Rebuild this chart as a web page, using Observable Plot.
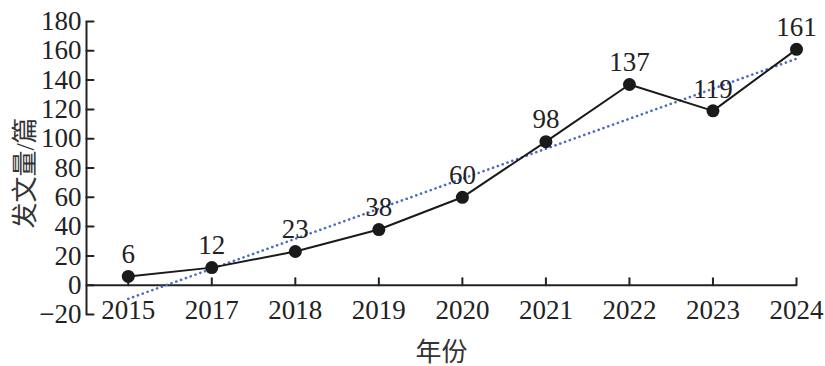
<!DOCTYPE html>
<html>
<head>
<meta charset="utf-8">
<script src="https://cdn.jsdelivr.net/npm/d3@7"></script>
<script src="https://cdn.jsdelivr.net/npm/@observablehq/plot@0.6"></script>
<style>
  html, body { margin: 0; padding: 0; background: #fff; }
  g[aria-label$="tick label"], g[aria-label$="tick label"] text { font-size: 27px; }
</style>
</head>
<body>
<div id="chart"></div>
<script>
const years = ["2015", "2017", "2018", "2019", "2020", "2021", "2022", "2023", "2024"];
const counts = [6, 12, 23, 38, 60, 98, 137, 119, 161];
const yTicks = [-20, 0, 20, 40, 60, 80, 100, 120, 140, 160, 180];
const yLabel = "发文量/篇";
const xLabel = "年份";

const data = years.map((y, i) => ({i, year: y, count: counts[i]}));
const idx = years.map((_, i) => i);
const xMin = -0.5;

const tickShape = {draw(context, l) { context.moveTo(0, 0); context.lineTo(0, -l); }};
const font = "'Liberation Serif', 'Noto Sans CJK SC', serif";

const chart = Plot.plot({
  width: 825,
  height: 366,
  marginTop: 21,
  marginBottom: 52,
  marginLeft: 86,
  marginRight: 29,
  style: {fontFamily: font, fontSize: "27px", color: "#222", background: "#fff"},
  x: {type: "linear", domain: [xMin, years.length - 1]},
  y: {domain: [-20, 180]},
  marks: [
    Plot.axisY(yTicks, {tickSize: 0, tickPadding: 5, tickFormat: d => d < 0 ? "\u2212" + Math.abs(d) : String(d), label: null, fontSize: 27}),
    Plot.axisX(idx, {anchor: "bottom", tickSize: 0, tickPadding: 0, dy: -15, tickFormat: i => years[i], label: null, fontSize: 27}),
    Plot.ruleX([xMin], {stroke: "#222", strokeWidth: 2}),
    Plot.ruleY([0], {stroke: "#222", strokeWidth: 2}),
    Plot.vector(yTicks, {y: d => d, frameAnchor: "left", rotate: 90, length: 7, anchor: "start", shape: tickShape, stroke: "#222", strokeWidth: 2}),
    Plot.vector(idx, {x: d => d, y: 0, rotate: 0, length: 7, anchor: "start", shape: tickShape, stroke: "#222", strokeWidth: 2}),
    Plot.linearRegressionY(data, {x: "i", y: "count", ci: 0, stroke: "#4a6cc0", strokeWidth: 2.6, strokeDasharray: "0.1 5", strokeLinecap: "round"}),
    Plot.line(data, {x: "i", y: "count", stroke: "#1a1a1a", strokeWidth: 2}),
    Plot.dot(data, {x: "i", y: "count", r: 6.5, fill: "#1a1a1a"}),
    Plot.text(data, {x: "i", y: "count", text: d => String(d.count), dy: -22, fontSize: 27, fill: "#222"}),
    Plot.text([yLabel], {frameAnchor: "left", textAnchor: "middle", lineAnchor: "middle", rotate: -90, dx: -61, dy: 5, fontSize: 26, fill: "#333"}),
    Plot.text([xLabel], {frameAnchor: "bottom", lineAnchor: "middle", dy: 38, fontSize: 26, fill: "#333"})
  ]
});
document.getElementById("chart").appendChild(chart);
</script>
</body>
</html>
